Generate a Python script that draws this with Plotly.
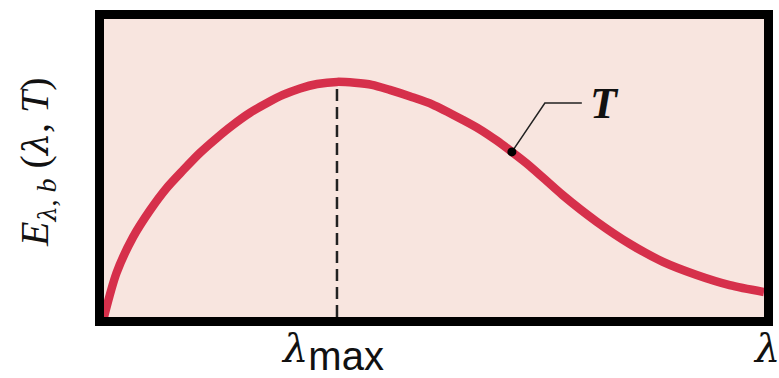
import plotly.graph_objects as go

# Spectral emissive power of a blackbody at temperature T (normalised units)
wavelength = [0.000, 0.019, 0.044, 0.070, 0.095, 0.120, 0.145, 0.171, 0.195, 0.221,
              0.247, 0.271, 0.297, 0.323, 0.353, 0.380, 0.406, 0.433, 0.464,
              0.498, 0.544, 0.570, 0.595, 0.618, 0.645, 0.695, 0.747, 0.797,
              0.847, 0.898, 0.948, 1.000]
emissive_power = [0.000, 0.148, 0.268, 0.359, 0.433, 0.493, 0.550, 0.601, 0.644, 0.685,
                  0.718, 0.745, 0.767, 0.782, 0.789, 0.786, 0.779, 0.762, 0.740,
                  0.713, 0.661, 0.629, 0.592, 0.554, 0.507, 0.409, 0.319, 0.245,
                  0.185, 0.141, 0.107, 0.084]
tick_labels = ["λ", "λ"]
tick_subs = ["max", ""]
curve_label = "T"
label_index = 23  # point on the curve where the T leader attaches

SERIF = "Liberation Serif"
SANS = "Liberation Sans"
GREEK = "DejaVu Serif"
CURVE = "#D6304B"
BG = "#F8E5DF"
INK = "#111111"

peak_i = max(range(len(emissive_power)), key=lambda i: emissive_power[i])
lam_max = wavelength[peak_i]
e_max = emissive_power[peak_i]
lx, ly = wavelength[label_index], emissive_power[label_index]


def greek(ch, size=None):
    """Italic Greek letter set in a font with a slanted italic Greek."""
    style = f"font-family:{GREEK}" + (f";font-size:{size}px" if size else "")
    return f"<span style='{style}'><i>{ch}</i></span>"


fig = go.Figure()

# dashed drop line at the peak wavelength
fig.add_trace(go.Scatter(
    x=[lam_max, lam_max], y=[0, e_max], mode="lines",
    line=dict(color="#222222", width=2.5, dash="12px,6px"),
    hoverinfo="skip", showlegend=False))

# the distribution curve
fig.add_trace(go.Scatter(
    x=wavelength, y=emissive_power, mode="lines",
    line=dict(color=CURVE, width=8.5, shape="spline", smoothing=0.8),
    hoverinfo="skip", showlegend=False))

# leader line and dot for the temperature label
fig.add_trace(go.Scatter(
    x=[lx, lx + 0.05, lx + 0.106], y=[ly, ly + 0.164, ly + 0.164],
    mode="lines", line=dict(color="#222222", width=1.5),
    hoverinfo="skip", showlegend=False))
fig.add_trace(go.Scatter(
    x=[lx], y=[ly], mode="markers",
    marker=dict(color="black", size=9),
    hoverinfo="skip", showlegend=False))

fig.add_annotation(
    x=lx + 0.115, y=ly + 0.164, xref="x", yref="y",
    text=f"<b><i>{curve_label}</i></b>", showarrow=False,
    xanchor="left", yanchor="middle",
    font=dict(family=SERIF, size=44, color=INK))

# vertical axis title
fig.add_annotation(
    x=-0.1015, y=0.52, xref="paper", yref="paper",
    text=(f"<i>E</i><sub>{greek('λ', 24)}, <i>b</i></sub> "
          f"({greek('λ', 35)}, <i>T</i>)"),
    textangle=-90, showarrow=False, xanchor="center", yanchor="middle",
    font=dict(family=SERIF, size=40, color=INK))

# wavelength labels under the axis
for xv, main, sub, dx in [(lam_max, tick_labels[0], tick_subs[0], -4),
                          (1.0, tick_labels[1], tick_subs[1], 2)]:
    txt = greek(main)
    if sub:
        txt += f"<sub><span style='font-family:{SANS};font-size:40px'>{sub}</span></sub>"
    fig.add_annotation(
        x=xv, y=0, xref="x", yref="paper", text=txt, showarrow=False,
        xanchor="center", yanchor="top", xshift=dx, yshift=-6,
        font=dict(family=SERIF, size=40, color=INK))

fig.update_layout(
    width=779, height=378,
    margin=dict(l=104, r=15, t=19, b=61),
    paper_bgcolor="white", plot_bgcolor=BG,
    xaxis=dict(range=[0, 1], showgrid=False, zeroline=False, automargin=False,
               showline=True, linewidth=9, linecolor="black", mirror=True,
               ticks="", showticklabels=False),
    yaxis=dict(range=[0, 1], showgrid=False, zeroline=False, automargin=False,
               showline=True, linewidth=9, linecolor="black", mirror=True,
               ticks="", showticklabels=False),
)

fig.write_html("out.html")
